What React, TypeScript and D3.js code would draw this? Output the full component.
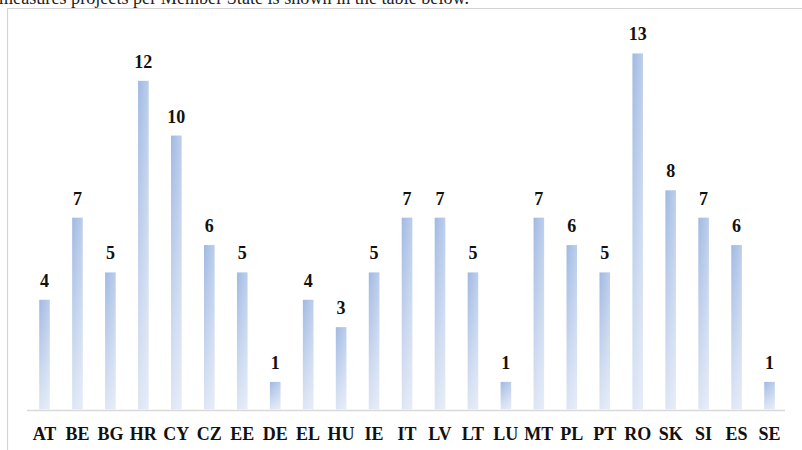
import React from "react";
import * as d3 from "d3";

const categories = ["AT", "BE", "BG", "HR", "CY", "CZ", "EE", "DE", "EL", "HU", "IE", "IT", "LV", "LT", "LU", "MT", "PL", "PT", "RO", "SK", "SI", "ES", "SE"];
const values = [4, 7, 5, 12, 10, 6, 5, 1, 4, 3, 5, 7, 7, 5, 1, 7, 6, 5, 13, 8, 7, 6, 1];
const headerText = "measures projects per Member State is shown in the table below.";

const W = 802;
const H = 450;

export default function App() {
  const x = d3.scaleBand<string>().domain(categories).range([28, 786]).paddingInner(0.68).paddingOuter(0.34);
  const y = d3.scaleLinear().domain([0, 14]).range([409.3, 26.1]);
  const font = "'Liberation Serif', 'Times New Roman', serif";

  return (
    <svg width={W} height={H} style={{ position: "fixed", left: 0, top: 0, background: "#fff" }}>
      <defs>
        <linearGradient id="barV" x1="0" y1="0" x2="0" y2="1">
          <stop offset="0" stopColor="#a0b9e3" />
          <stop offset="1" stopColor="#dde6f5" />
        </linearGradient>
        <linearGradient id="barH" x1="0" y1="0" x2="1" y2="0">
          <stop offset="0" stopColor="#ffffff" stopOpacity="0" />
          <stop offset="1" stopColor="#ffffff" stopOpacity="0.3" />
        </linearGradient>
      </defs>
      <rect x={0} y={0} width={W} height={H} fill="#fff" />
      <text x={-1} y={3.5} fontFamily={font} fontSize={19} fill="#222" textLength={470} lengthAdjust="spacingAndGlyphs">
        {headerText}
      </text>
      <line x1={7} y1={8.5} x2={W} y2={8.5} stroke="#d4d4d4" strokeWidth={1.2} />
      <line x1={7.5} y1={8} x2={7.5} y2={H} stroke="#d4d4d4" strokeWidth={1.2} />
      {categories.map((c, i) => {
        const bx = x(c) as number;
        const bw = x.bandwidth();
        const top = y(values[i]);
        const h = y(0) - top;
        return (
          <g key={c}>
            <rect x={bx} y={top} width={bw} height={h} fill="url(#barV)" />
            <rect x={bx} y={top} width={bw} height={h} fill="url(#barH)" />
            <text x={bx + bw / 2} y={top - 13} textAnchor="middle" fontFamily={font} fontWeight="bold" fontSize={18} fill="#111">
              {values[i]}
            </text>
            <text x={bx + bw / 2} y={439.5} textAnchor="middle" fontFamily={font} fontWeight="bold" fontSize={18} fill="#111">
              {c}
            </text>
          </g>
        );
      })}
      <line x1={27} y1={410.5} x2={785} y2={410.5} stroke="#d9d9d9" strokeWidth={1.5} />
    </svg>
  );
}
